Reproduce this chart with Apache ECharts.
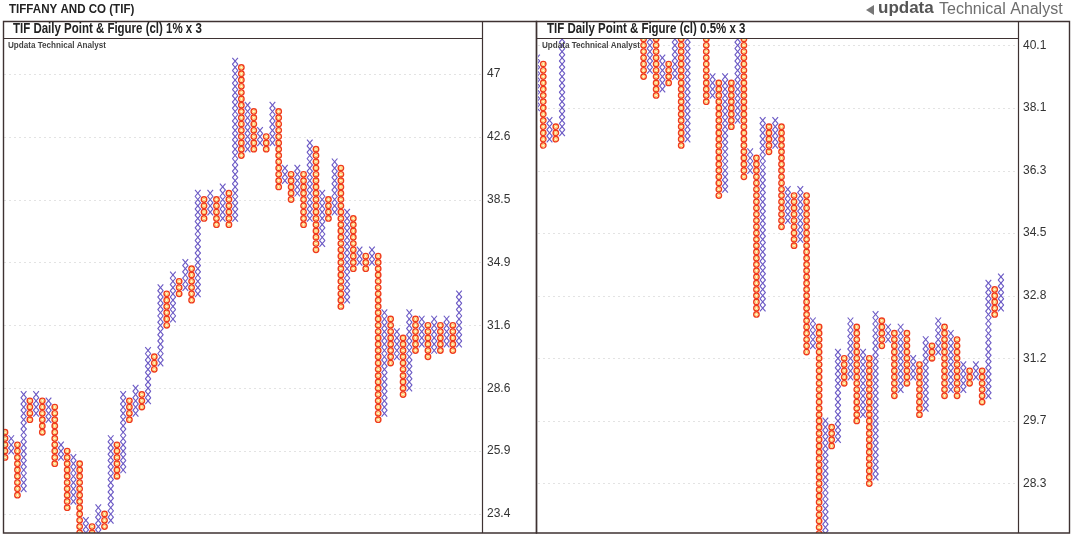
<!DOCTYPE html>
<html><head><meta charset="utf-8">
<script src="https://cdn.jsdelivr.net/npm/echarts@6/dist/echarts.min.js"></script>
<style>html,body{margin:0;padding:0;background:#fff}#c{width:1076px;height:536px}</style>
</head><body><div id="c"></div>
<script>
// ---------- data ----------
const chartTitle = 'TIFFANY AND CO (TIF)';
const leftTitle = 'TIF Daily Point & Figure (cl) 1% x 3';
const rightTitle = 'TIF Daily Point & Figure (cl) 0.5% x 3';
const watermark = 'Updata Technical Analyst';

// box index of each price tick (1 box = 1% left, 0.5% right)
const leftTickBoxes = [0, 10, 20, 30, 40, 50, 60, 70];
const leftTickLabels = ['23.4', '25.9', '28.6', '31.6', '34.9', '38.5', '42.6', '47'];
const rightTickBoxes = [0, 10, 20, 30, 40, 50, 60, 70];
const rightTickLabels = ['28.3', '29.7', '31.2', '32.8', '34.5', '36.3', '38.1', '40.1'];

// columns: [type, lowest box, highest box]
const leftColumns = [
  ['O', 9, 13], ['X', 10, 12], ['O', 3, 11], ['X', 4, 19], ['O', 15, 18], ['X', 16, 19],
  ['O', 13, 18], ['X', 15, 18], ['O', 8, 17], ['X', 9, 11], ['O', 1, 10], ['X', 2, 9],
  ['O', -5, 8], ['X', -4, -1], ['O', -4, -2], ['X', -3, 1], ['O', -2, 0], ['X', -1, 12],
  ['O', 6, 11], ['X', 7, 19], ['O', 15, 18], ['X', 16, 20], ['O', 17, 19], ['X', 18, 26],
  ['O', 23, 25], ['X', 24, 36], ['O', 30, 35], ['X', 31, 38], ['O', 35, 37], ['X', 36, 40],
  ['O', 34, 39], ['X', 35, 51], ['O', 47, 50], ['X', 48, 51], ['O', 46, 50], ['X', 47, 52],
  ['O', 46, 51], ['X', 47, 72], ['O', 57, 71], ['X', 58, 65], ['O', 58, 64], ['X', 59, 61],
  ['O', 58, 60], ['X', 59, 65], ['O', 52, 64], ['X', 53, 55], ['O', 50, 54], ['X', 51, 55],
  ['O', 46, 54], ['X', 47, 59], ['O', 42, 58], ['X', 43, 51], ['O', 47, 50], ['X', 48, 56],
  ['O', 33, 55], ['X', 34, 48], ['O', 39, 47], ['X', 40, 42], ['O', 39, 41], ['X', 40, 42],
  ['O', 15, 41], ['X', 16, 32], ['O', 24, 31], ['X', 25, 29], ['O', 19, 28], ['X', 20, 32],
  ['O', 26, 31], ['X', 27, 31], ['O', 25, 30], ['X', 26, 31], ['O', 26, 30], ['X', 27, 31],
  ['O', 26, 30], ['X', 27, 35]
];
const rightColumns = [
  ['X', 60, 68], ['O', 54, 67], ['X', 55, 58], ['O', 55, 57], ['X', 56, 75], ['O', 72, 74],
  ['X', 73, 78], ['O', 74, 77], ['X', 75, 80], ['O', 76, 79], ['X', 77, 81], ['O', 74, 80],
  ['X', 75, 79], ['O', 73, 78], ['X', 74, 77], ['O', 72, 76], ['X', 73, 77], ['O', 65, 76],
  ['X', 66, 74], ['O', 62, 73], ['X', 63, 68], ['O', 64, 67], ['X', 65, 74], ['O', 54, 73],
  ['X', 55, 76], ['O', 73, 75], ['X', 74, 78], ['O', 61, 77], ['X', 62, 65], ['O', 46, 64],
  ['X', 47, 65], ['O', 57, 64], ['X', 58, 74], ['O', 49, 73], ['X', 50, 53], ['O', 27, 52],
  ['X', 28, 58], ['O', 53, 57], ['X', 54, 58], ['O', 41, 57], ['X', 42, 47], ['O', 38, 46],
  ['X', 39, 47], ['O', 21, 46], ['X', 22, 26], ['O', -10, 25], ['X', -9, 10], ['O', 6, 9],
  ['X', 7, 21], ['O', 16, 20], ['X', 17, 26], ['O', 10, 25], ['X', 11, 21], ['O', 0, 20],
  ['X', 1, 27], ['O', 22, 26], ['X', 23, 25], ['O', 14, 24], ['X', 15, 25], ['O', 16, 24],
  ['X', 17, 20], ['O', 11, 19], ['X', 12, 23], ['O', 20, 22], ['X', 21, 26], ['O', 14, 25],
  ['X', 15, 24], ['O', 14, 23], ['X', 15, 19], ['O', 16, 18], ['X', 17, 19], ['O', 13, 18],
  ['X', 14, 32], ['O', 27, 31], ['X', 28, 33]
];

// ---------- styles ----------
const X_COLOR = '#6a58c4';
const O_COLOR = '#ef3b1c';
const BORDER = '#3e3232';
const SANS = '"Liberation Sans", Arial, sans-serif';

function pfRender(cols) {
  return function (params, api) {
    const c = cols[params.dataIndex];
    const x = api.value(0);
    const u = api.size([1, 1]);
    const w = u[0], h = u[1];
    const children = [];
    for (let k = c[1]; k <= c[2]; k++) {
      const p = api.coord([x, k]);
      if (c[0] === 'X') {
        const dx = w * 0.45, dy = h * 0.52;
        children.push({ type: 'line', shape: { x1: p[0] - dx, y1: p[1] - dy, x2: p[0] + dx, y2: p[1] + dy }, style: { stroke: X_COLOR, lineWidth: 1.1 } });
        children.push({ type: 'line', shape: { x1: p[0] - dx, y1: p[1] + dy, x2: p[0] + dx, y2: p[1] - dy }, style: { stroke: X_COLOR, lineWidth: 1.1 } });
      } else {
        children.push({ type: 'circle', shape: { cx: p[0], cy: p[1], r: h * 0.43 }, style: { stroke: O_COLOR, fill: '#fff', lineWidth: 1.4 } });
        children.push({ type: 'circle', shape: { cx: p[0], cy: p[1], r: h * 0.22 }, style: { stroke: '#ffc444', fill: '#fffbea', lineWidth: 0.9 } });
      }
    }
    const cs = params.coordSys;
    return { type: 'group', children: children,
      clipPath: { type: 'rect', shape: { x: cs.x, y: cs.y, width: cs.width, height: cs.height } } };
  };
}
function gridRender(params, api) {
  const cs = params.coordSys;
  const y = Math.round(api.coord([0, api.value(1)])[1]) + 0.5;
  return { type: 'line', shape: { x1: cs.x, y1: y, x2: cs.x + cs.width, y2: y },
    style: { stroke: '#e3e3e3', lineWidth: 1, lineDash: [2, 3] } };
}

const chart = echarts.init(document.getElementById('c'), null, { renderer: 'canvas' });

function yAxisFor(idx, min, max, boxes, labels) {
  return {
    gridIndex: idx, type: 'value', position: 'right', min: min, max: max,
    axisLine: { show: false }, splitLine: { show: false },
    axisTick: { show: false, customValues: boxes },
    axisLabel: { customValues: boxes, margin: 5, color: '#333', fontSize: 12, fontFamily: SANS,
      formatter: function (v) { const i = boxes.indexOf(v); return i >= 0 ? labels[i] : ''; } }
  };
}

chart.setOption({
  animation: false,
  backgroundColor: '#fff',
  grid: [
    { left: 4, top: 38, width: 478, height: 495 },
    { left: 538, top: 38, width: 480, height: 495 }
  ],
  xAxis: [
    { gridIndex: 0, type: 'value', min: -0.16, max: 76.69, show: false },
    { gridIndex: 1, type: 'value', min: 0.16, max: 76.72, show: false }
  ],
  yAxis: [
    yAxisFor(0, -3.02, 75.68, leftTickBoxes, leftTickLabels),
    yAxisFor(1, -7.91, 71.17, rightTickBoxes, rightTickLabels)
  ],
  series: [
    { type: 'custom', xAxisIndex: 0, yAxisIndex: 0, z: 1, silent: true, renderItem: gridRender,
      data: leftTickBoxes.map(v => [0, v]), encode: { x: 0, y: 1 } },
    { type: 'custom', xAxisIndex: 1, yAxisIndex: 1, z: 1, silent: true, renderItem: gridRender,
      data: rightTickBoxes.map(v => [0, v]), encode: { x: 0, y: 1 } },
    { type: 'custom', xAxisIndex: 0, yAxisIndex: 0, z: 2, silent: true, renderItem: pfRender(leftColumns),
      data: leftColumns.map((c, i) => [i, c[1], c[2]]), encode: { x: 0, y: [1, 2] } },
    { type: 'custom', xAxisIndex: 1, yAxisIndex: 1, z: 2, silent: true, renderItem: pfRender(rightColumns),
      data: rightColumns.map((c, i) => [i, c[1], c[2]]), encode: { x: 0, y: [1, 2] } }
  ],
  graphic: [
    // frames
    { type: 'rect', z: 10, silent: true, shape: { x: 3.5, y: 21.5, width: 533, height: 511.5 }, style: { fill: 'none', stroke: BORDER, lineWidth: 1.4 } },
    { type: 'rect', z: 10, silent: true, shape: { x: 536.5, y: 21.5, width: 533, height: 511.5 }, style: { fill: 'none', stroke: BORDER, lineWidth: 1.4 } },
    { type: 'line', z: 10, silent: true, shape: { x1: 3.5, y1: 38.5, x2: 482.5, y2: 38.5 }, style: { stroke: BORDER, lineWidth: 1.2 } },
    { type: 'line', z: 10, silent: true, shape: { x1: 482.5, y1: 21.5, x2: 482.5, y2: 533 }, style: { stroke: BORDER, lineWidth: 1.2 } },
    { type: 'line', z: 10, silent: true, shape: { x1: 536.5, y1: 38.5, x2: 1018.5, y2: 38.5 }, style: { stroke: BORDER, lineWidth: 1.2 } },
    { type: 'line', z: 10, silent: true, shape: { x1: 1018.5, y1: 21.5, x2: 1018.5, y2: 533 }, style: { stroke: BORDER, lineWidth: 1.2 } },
    // texts (narrowed to match the condensed face of the original)
    { type: 'text', z: 11, silent: true, x: 9, y: 3, scaleX: 0.89, style: { text: chartTitle, font: 'bold 13px ' + SANS, fill: '#222' } },
    { type: 'text', z: 11, silent: true, x: 13, y: 22, scaleX: 0.82, style: { text: leftTitle, font: 'bold 14px ' + SANS, fill: '#222' } },
    { type: 'text', z: 11, silent: true, x: 547, y: 22, scaleX: 0.82, style: { text: rightTitle, font: 'bold 14px ' + SANS, fill: '#222' } },
    { type: 'text', z: 11, silent: true, x: 8, y: 41, scaleX: 0.9, style: { text: watermark, font: 'bold 9px ' + SANS, fill: '#444' } },
    { type: 'text', z: 11, silent: true, x: 542, y: 41, scaleX: 0.9, style: { text: watermark, font: 'bold 9px ' + SANS, fill: '#444' } },
    // logo
    { type: 'polygon', z: 11, silent: true, shape: { points: [[866, 10], [874, 5], [874, 15]] }, style: { fill: '#777' } },
    { type: 'text', z: 11, silent: true, x: 878, y: 0, style: { text: 'updata', font: 'bold 17px ' + SANS, fill: '#555' } },
    { type: 'text', z: 11, silent: true, x: 939, y: 2, style: { text: 'Technical Analyst', font: '16px ' + SANS, fill: '#6e6e6e' } }
  ]
});
</script>
</body></html>
